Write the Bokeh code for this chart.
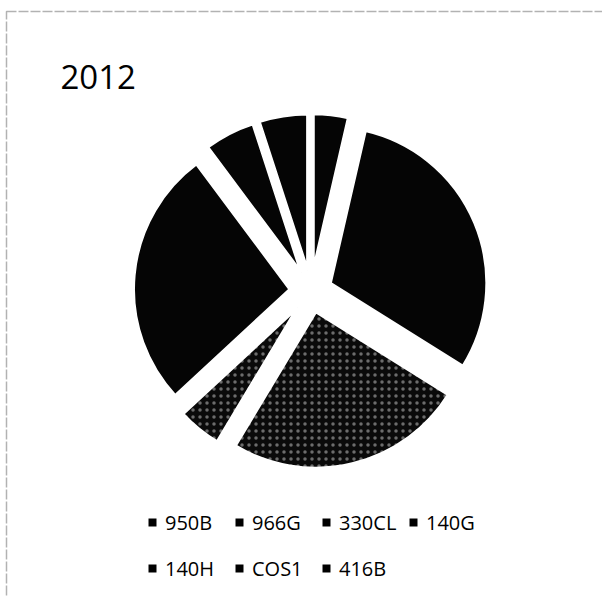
import math
from bokeh.plotting import figure
from bokeh.models import (ColumnDataSource, Range1d, Legend, LegendItem, Label,
                          BoxAnnotation)
from bokeh.embed import file_html
from bokeh.resources import INLINE

# ---- data ----
title_text = "2012"
categories = ["950B", "966G", "330CL", "140G", "140H", "COS1", "416B"]
shares = [3.6, 30.3, 24.7, 4.5, 26.7, 5.2, 5.0]
fills = ["#050505", "#050505", "#0a0a0a", "#0a0a0a", "#050505", "#050505", "#050505"]
textures = [" ", " ", ".", ".", " ", " ", " "]

W, H = 602, 597
cx, cy = 310.4, 306.3      # pie centre (data units = pixels)
radius = 156.5
explode = 21

total = float(sum(shares))
xs, ys, starts, ends = [], [], [], []
acc = 0.0
for v in shares:
    t1 = acc / total * 2 * math.pi
    acc += v
    t2 = acc / total * 2 * math.pi
    tm = (t1 + t2) / 2
    xs.append(cx + explode * math.sin(tm))
    ys.append(cy + explode * math.cos(tm))
    starts.append(math.pi / 2 - t2)
    ends.append(math.pi / 2 - t1)

src = ColumnDataSource(dict(x=xs, y=ys, start=starts, end=ends, cat=categories,
                            color=fills, hatch=textures))

p = figure(width=W, height=H, output_backend="svg", toolbar_location=None,
           x_range=Range1d(0, W), y_range=Range1d(0, H), min_border=0,
           tools="")
p.axis.visible = False
p.xgrid.visible = False
p.ygrid.visible = False
p.outline_line_color = None
p.background_fill_color = "white"
p.border_fill_color = "white"

# scanned page border (top and left edges only)
p.add_layout(BoxAnnotation(left=6, right=W + 50, bottom=-50, top=H - 11,
                           fill_alpha=0, line_color="#000000", line_width=1.5,
                           line_dash="10 2"))

r = p.wedge(x="x", y="y", radius=radius, start_angle="start", end_angle="end",
            direction="anticlock", source=src, fill_color="color",
            line_color="white", line_width=3,
            hatch_pattern="hatch", hatch_color="white", hatch_alpha=0.4,
            hatch_scale=7, hatch_weight=1)

# square swatches for the legend (no visible marks: NaN positions)
nan = float("nan")
key_src = ColumnDataSource(dict(left=[nan] * len(categories),
                                right=[nan] * len(categories),
                                top=[nan] * len(categories),
                                bottom=[nan] * len(categories),
                                cat=categories))
sw = p.quad(left="left", right="right", top="top", bottom="bottom",
            source=key_src, fill_color="#000000", line_color=None)

legend = Legend(items=[LegendItem(label=c, renderers=[sw], index=i)
                       for i, c in enumerate(categories)],
                location=(147, 10), ncols=4, orientation="horizontal",
                label_text_font="Open Sans", label_text_font_size="20px",
                label_text_color="#000000", glyph_width=10, glyph_height=10,
                label_standoff=8, label_width=61, label_height=38,
                spacing=8, padding=0, margin=0,
                border_line_color=None, background_fill_alpha=0)
p.add_layout(legend, "center")

p.add_layout(Label(x=60, y=H - 76, text=title_text, text_font="Open Sans",
                   text_font_size="33px", text_color="#000000",
                   text_baseline="alphabetic"))

open("out.html", "w").write(file_html(p, INLINE))
